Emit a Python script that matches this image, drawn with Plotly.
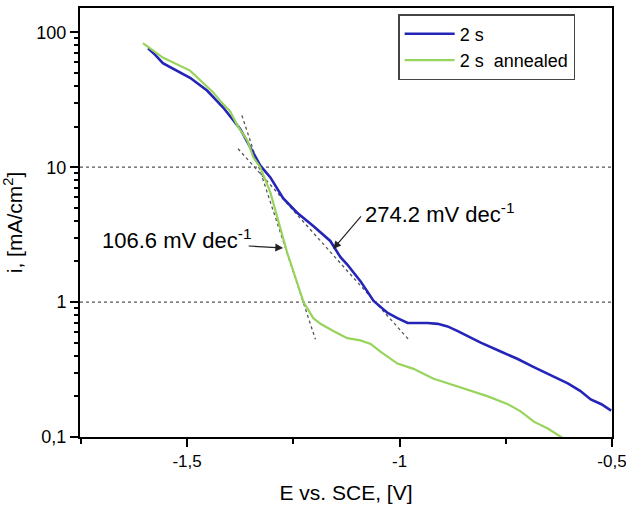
import numpy as np
import plotly.graph_objects as go

# ---- data ----
blue_name = "2 s"
blue_x = [-1.592, -1.575, -1.557, -1.525, -1.493, -1.453, -1.415, -1.375, -1.351, -1.328,
          -1.304, -1.274, -1.241, -1.203, -1.163, -1.139, -1.123, -1.092, -1.061, -1.028,
          -1.005, -0.981, -0.957, -0.934, -0.910, -0.887, -0.863, -0.840, -0.809, -0.762,
          -0.723, -0.684, -0.645, -0.604, -0.575, -0.550, -0.525, -0.502]
blue_y = [76, 68, 59, 52, 46, 37, 27.7, 19.2, 14.0, 10.3,
          8.4, 5.9, 4.6, 3.67, 2.84, 2.15, 1.9, 1.43, 1.02, 0.83,
          0.76, 0.70, 0.70, 0.70, 0.69, 0.66, 0.61, 0.56, 0.50, 0.43,
          0.38, 0.33, 0.29, 0.25, 0.22, 0.19, 0.175, 0.157]

green_name = "2 s\u00a0 annealed"
green_x = [-1.604, -1.557, -1.493, -1.439, -1.420, -1.399, -1.380, -1.358, -1.344, -1.328,
           -1.304, -1.281, -1.264, -1.250, -1.226, -1.203, -1.186, -1.156, -1.123, -1.092,
           -1.068, -1.045, -1.005, -0.967, -0.920, -0.903, -0.840, -0.792, -0.745, -0.715,
           -0.684, -0.650, -0.620, -0.600]
green_y = [83, 65, 52, 36, 30.5, 26, 20, 15.7, 11.8, 10,
           6.5, 3.6, 2.3, 1.7, 1.0, 0.76, 0.69, 0.61, 0.54, 0.52,
           0.49, 0.43, 0.35, 0.32, 0.27, 0.26, 0.225, 0.20, 0.175, 0.155,
           0.13, 0.115, 0.10, 0.09]

# Tafel fit lines (endpoints)
fit_green_x = [-1.371, -1.198]
fit_green_y = [24.2, 0.53]
fit_blue_x = [-1.380, -0.979]
fit_blue_y = [13.7, 0.53]

ref_levels = [10, 1]

x_tickvals = [-1.5, -1.0, -0.5]
x_ticktext = ["-1,5", "-1", "-0,5"]
y_tickvals = [0.1, 1, 10, 100]
y_ticktext = ["0,1", "1", "10", "100"]

label_green = "106.6 mV dec<sup>-1</sup>"
label_blue = "274.2 mV dec<sup>-1</sup>"
label_green_pos = (-1.705, 2.94)
label_blue_pos = (-1.087, 4.6)
arrow_green_tip = (-1.274, 2.52)
arrow_blue_tip = (-1.156, 2.48)

x_range = [-1.752, -0.5]
y_range_log = [-1, 2.18]

FONT = "Liberation Sans, Arial, sans-serif"

fig = go.Figure()
fig.add_trace(go.Scatter(x=fit_green_x, y=fit_green_y, mode="lines", showlegend=False,
                         line=dict(color="#555555", width=1.3, dash="dot")))
fig.add_trace(go.Scatter(x=fit_blue_x, y=fit_blue_y, mode="lines", showlegend=False,
                         line=dict(color="#555555", width=1.3, dash="dot")))
fig.add_trace(go.Scatter(x=blue_x, y=blue_y, mode="lines", name=blue_name,
                         line=dict(color="#2424b8", width=2.6)))
fig.add_trace(go.Scatter(x=green_x, y=green_y, mode="lines", name=green_name,
                         line=dict(color="#98d45c", width=2.2)))

for lv in ref_levels:
    fig.add_shape(type="line", xref="paper", x0=0, x1=1, yref="y", y0=lv, y1=lv,
                  line=dict(color="#555555", width=1.3, dash="dot"), layer="below")

fig.add_annotation(x=label_green_pos[0], y=np.log10(label_green_pos[1]), text=label_green, showarrow=False,
                   xanchor="left", yanchor="middle", font=dict(size=22, color="black", family=FONT))
fig.add_annotation(x=label_blue_pos[0], y=np.log10(label_blue_pos[1]), text=label_blue, showarrow=False,
                   xanchor="left", yanchor="middle", font=dict(size=22, color="black", family=FONT))
fig.add_annotation(x=arrow_green_tip[0], y=np.log10(arrow_green_tip[1]), text="", showarrow=True,
                   ax=-36, ay=-2, arrowhead=2, arrowsize=1.3, arrowwidth=1.2, arrowcolor="#222222")
fig.add_annotation(x=arrow_blue_tip[0], y=np.log10(arrow_blue_tip[1]), text="", showarrow=True,
                   ax=29, ay=-34, arrowhead=2, arrowsize=1.3, arrowwidth=1.2, arrowcolor="#222222")

fig.update_layout(
    width=626, height=507,
    margin=dict(l=80, r=14, t=8, b=70, autoexpand=False),
    paper_bgcolor="white", plot_bgcolor="white",
    font=dict(family=FONT, size=18, color="black"),
    showlegend=True,
    legend=dict(x=0.598, y=0.986, xanchor="left", yanchor="top",
                bordercolor="#444444", borderwidth=1.5, bgcolor="white",
                font=dict(size=18, family=FONT), tracegroupgap=0, itemwidth=50,
                traceorder="normal"),
)
fig.update_xaxes(range=x_range, tickmode="array", tickvals=x_tickvals, ticktext=x_ticktext,
                 automargin=False, ticklabeloverflow="allow",
                 showgrid=False, zeroline=False, showline=True, linecolor="black", linewidth=2,
                 mirror=True, ticks="outside", ticklen=8, tickwidth=2, tickcolor="black",
                 tickfont=dict(size=17),
                 minor=dict(ticks="outside", ticklen=5, tickwidth=2, tickcolor="black", dtick=0.25, showgrid=False),
                 title=dict(text="E vs. SCE, [V]", font=dict(size=21)))
fig.update_yaxes(type="log", range=y_range_log, tickmode="array", tickvals=y_tickvals, ticktext=y_ticktext,
                 automargin=False,
                 showgrid=False, zeroline=False, showline=True, linecolor="black", linewidth=2,
                 mirror=True, ticks="outside", ticklen=8, tickwidth=2, tickcolor="black",
                 tickfont=dict(size=18),
                 minor=dict(ticks="outside", ticklen=4, tickwidth=1.5, tickcolor="black", dtick="D1", showgrid=False),
                 title=dict(text="i, [mA/cm<sup>2</sup>]", font=dict(size=21)))

# remove the default 8px page margin so the 626x507 figure fills the window
fig.write_html("out.html", config={"displayModeBar": False},
               post_script="document.body.style.margin='0';document.body.style.overflow='hidden';")
